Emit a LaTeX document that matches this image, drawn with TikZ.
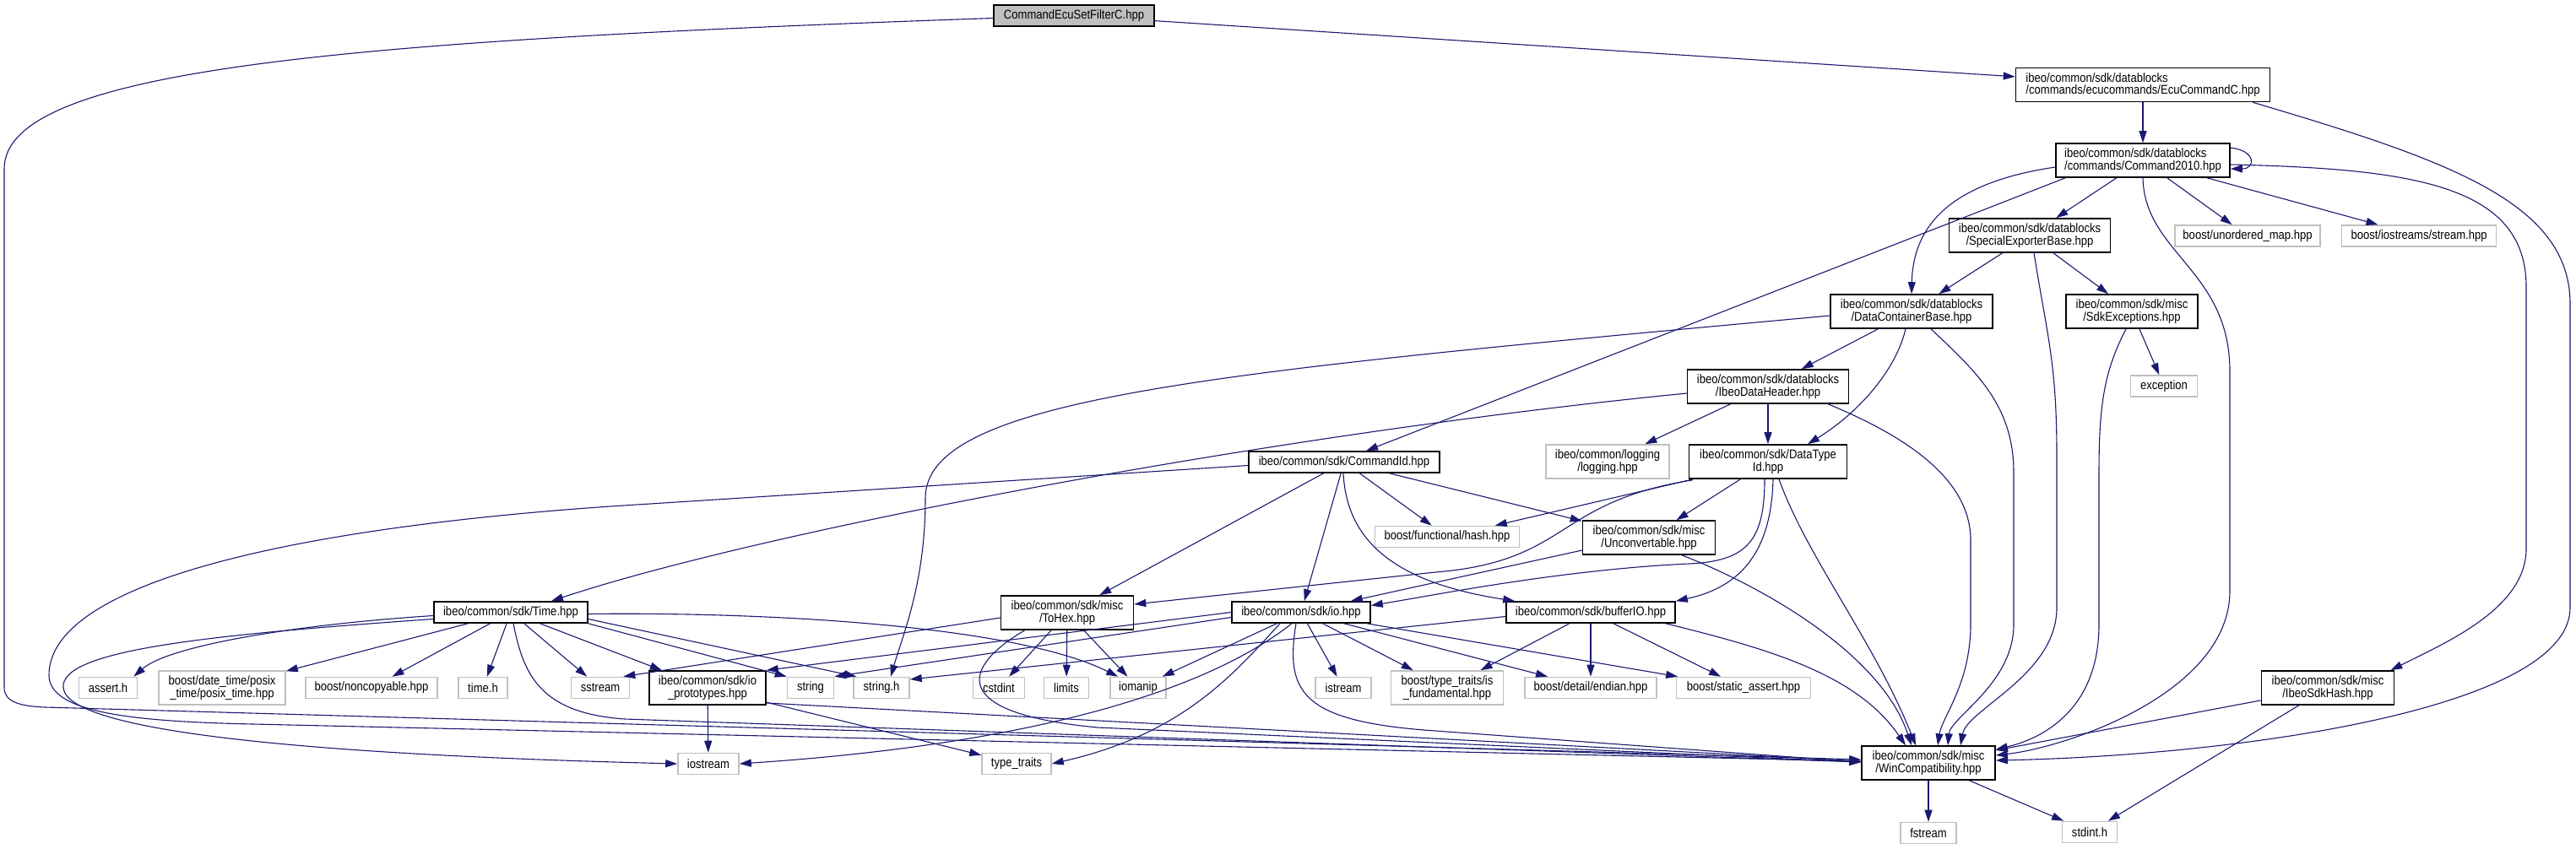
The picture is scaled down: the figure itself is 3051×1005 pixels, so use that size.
\documentclass[tikz,border=0pt]{standalone}
\usepackage{fontspec}
\setmainfont{Liberation Sans}[FakeStretch=0.87]
\usetikzlibrary{arrows.meta,calc}
\definecolor{edgeblue}{HTML}{191970}
\definecolor{extgrey}{HTML}{BFBFBF}
\begin{document}
\begin{tikzpicture}[
    x=1pt, y=-1pt,
    file/.style={draw=black, line width=1.6pt, fill=white, inner sep=0pt,
        font=\fontsize{15}{14.5}\selectfont, minimum height=25pt, align=center},
    ext/.style={file, draw=extgrey},
    tall/.style={minimum height=40pt},
    incl/.style={draw=edgeblue, line width=1.1pt, -{Triangle[length=14pt,width=9pt]}}
]
\useasboundingbox (0,0) rectangle (3051,1005);
\node[file, fill=extgrey, minimum width=190pt] (root) at (1272,18.5) {CommandEcuSetFilterC.hpp};
\node[file, tall, align=left, minimum width=301pt] (ecu) at (2538,100.5) {ibeo/common/sdk/datablocks\\/commands/ecucommands/EcuCommandC.hpp};
\node[file, tall, align=left, minimum width=206pt] (cmd2010) at (2538,190) {ibeo/common/sdk/datablocks\\/commands/Command2010.hpp};
\node[file, tall, minimum width=191pt] (seb) at (2404,279) {ibeo/common/sdk/datablocks\\/SpecialExporterBase.hpp};
\node[ext, minimum width=172pt] (umap) at (2662,279.5) {boost/unordered\_map.hpp};
\node[ext, minimum width=183pt] (stream) at (2865,279.5) {boost/iostreams/stream.hpp};
\node[file, tall, minimum width=192pt] (dcb) at (2264,369) {ibeo/common/sdk/datablocks\\/DataContainerBase.hpp};
\node[file, tall, minimum width=156pt] (sdkexc) at (2525,369) {ibeo/common/sdk/misc\\/SdkExceptions.hpp};
\node[ext, minimum width=79pt] (exception) at (2563,457.5) {exception};
\node[file, tall, minimum width=191pt] (idh) at (2094,458) {ibeo/common/sdk/datablocks\\/IbeoDataHeader.hpp};
\node[ext, tall, minimum width=146pt] (logging) at (1904,547) {ibeo/common/logging\\/logging.hpp};
\node[file, tall, minimum width=187pt] (dtid) at (2094,547) {ibeo/common/sdk/DataType\\Id.hpp};
\node[file, minimum width=226pt] (cmdid) at (1592,547.5) {ibeo/common/sdk/CommandId.hpp};
\node[ext, minimum width=171pt] (hash) at (1714,636) {boost/functional/hash.hpp};
\node[file, tall, minimum width=157pt] (unconv) at (1953,637) {ibeo/common/sdk/misc\\/Unconvertable.hpp};
\node[file, minimum width=182pt] (time) at (605,725.5) {ibeo/common/sdk/Time.hpp};
\node[file, tall, minimum width=157pt] (tohex) at (1264,726) {ibeo/common/sdk/misc\\/ToHex.hpp};
\node[file, minimum width=164pt] (io) at (1541,725.5) {ibeo/common/sdk/io.hpp};
\node[file, minimum width=200pt] (bufio) at (1884,725.5) {ibeo/common/sdk/bufferIO.hpp};
\node[ext, minimum width=69pt] (assert) at (128,815) {assert.h};
\node[ext, tall, minimum width=150pt] (posix) at (263,815) {boost/date\_time/posix\\\_time/posix\_time.hpp};
\node[ext, minimum width=156pt] (noncopy) at (440,815) {boost/noncopyable.hpp};
\node[ext, minimum width=58pt] (timeh) at (572,815) {time.h};
\node[ext, minimum width=69pt] (sstream) at (711,815) {sstream};
\node[file, tall, minimum width=138pt] (ioproto) at (838,815) {ibeo/common/sdk/io\\\_prototypes.hpp};
\node[ext, minimum width=55pt] (string) at (960,815) {string};
\node[ext, minimum width=66pt] (stringh) at (1044,815) {string.h};
\node[ext, minimum width=61pt] (cstdint) at (1183,815) {cstdint};
\node[ext, minimum width=53pt] (limits) at (1263,815) {limits};
\node[ext, minimum width=66pt] (iomanip) at (1348,815) {iomanip};
\node[ext, minimum width=66pt] (istream) at (1591,815) {istream};
\node[ext, tall, minimum width=133pt] (isfund) at (1714,815) {boost/type\_traits/is\\\_fundamental.hpp};
\node[ext, minimum width=156pt] (endian) at (1884,815) {boost/detail/endian.hpp};
\node[ext, minimum width=159pt] (sassert) at (2065,815) {boost/static\_assert.hpp};
\node[file, tall, minimum width=157pt] (sdkhash) at (2757,815) {ibeo/common/sdk/misc\\/IbeoSdkHash.hpp};
\node[file, tall, minimum width=158pt] (winc) at (2284,904) {ibeo/common/sdk/misc\\/WinCompatibility.hpp};
\node[ext, minimum width=72pt] (iostream) at (839,905) {iostream};
\node[ext, minimum width=82pt] (typetr) at (1204,905) {type\_traits};
\node[ext, minimum width=66pt] (fstream) at (2284,987) {fstream};
\node[ext, minimum width=65pt] (stdint) at (2475,986) {stdint.h};
\draw[incl] (root) -- (ecu);
\draw[incl] ($(root.west)+(0,3)$) .. controls (420,48) and (5,80) .. (5,200) -- (5,815) .. controls (5,832) and (25,837) .. (54,838) -- ($(winc.west)+(0,-4)$);
\draw[incl] (ecu) -- (cmd2010);
\draw[incl] ($(ecu.south east)+(-21,0)$) .. controls (2900,190) and (3044,240) .. (3044,360) -- (3044,720) .. controls (3044,840) and (2650,895) .. ($(winc.east)+(0,-3)$);
\draw[incl] ($(cmd2010.north east)+(0,6)$) .. controls (2672,178) and (2672,200) .. ($(cmd2010.east)+(0,10)$);
\draw[incl] (cmd2010) -- (seb);
\draw[incl] (cmd2010) -- (umap);
\draw[incl] (cmd2010) -- (stream);
\draw[incl] ($(cmd2010.west)+(0,8)$) .. controls (2320,215) and (2266,260) .. (dcb.north);
\draw[incl] ($(cmd2010.south west)+(12,0)$) -- ($(cmdid.north)+(26,0)$);
\draw[incl] (cmd2010.south) .. controls (2540,300) and (2641,320) .. (2641,440) -- (2641,700) .. controls (2641,820) and (2450,885) .. ($(winc.east)+(0,-9)$);
\draw[incl] ($(cmd2010.east)+(0,5)$) .. controls (2860,200) and (2992,220) .. (2992,340) -- (2992,650) .. controls (2992,720) and (2900,760) .. ($(sdkhash.north east)+(-5,0)$);
\draw[incl] (seb) -- (dcb);
\draw[incl] (seb) -- (sdkexc);
\draw[incl] ($(seb.south)+(5,0)$) .. controls (2425,400) and (2436,430) .. (2436,540) -- (2436,720) .. controls (2436,800) and (2330,840) .. ($(winc.north)+(38,0)$);
\draw[incl] (sdkexc) -- (exception);
\draw[incl] ($(sdkexc.south)+(-7,0)$) .. controls (2492,440) and (2486,480) .. (2486,560) -- (2486,740) .. controls (2486,840) and (2420,875) .. ($(winc.east)+(0,-16)$);
\draw[incl] (dcb) -- (idh);
\draw[incl] ($(dcb.south)+(-7,0)$) .. controls (2245,440) and (2200,490) .. ($(dtid.north)+(47,0)$);
\draw[incl] ($(dcb.west)+(0,5)$) .. controls (1450,440) and (1096,470) .. (1096,590) .. controls (1096,690) and (1070,750) .. ($(stringh.north)+(11,0)$);
\draw[incl] ($(dcb.south)+(23,0)$) .. controls (2340,440) and (2385,480) .. (2385,560) -- (2385,740) .. controls (2385,810) and (2310,850) .. ($(winc.north)+(23,0)$);
\draw[incl] ($(idh.west)+(0,8)$) .. controls (1500,515) and (900,630) .. ($(time.north)+(48,0)$);
\draw[incl] (idh) -- (logging);
\draw[incl] (idh) -- (dtid);
\draw[incl] ($(idh.south east)+(-25,0)$) .. controls (2240,510) and (2334,560) .. (2334,640) -- (2334,740) .. controls (2334,810) and (2300,850) .. ($(winc.north)+(11,0)$);
\draw[incl] (cmdid) -- (tohex);
\draw[incl] (cmdid) -- (io);
\draw[incl] (cmdid) -- (hash);
\draw[incl] (cmdid) -- (unconv);
\draw[incl] ($(cmdid.south)+(-1,0)$) .. controls (1595,640) and (1650,690) .. ($(bufio.north west)+(11,0)$);
\draw[incl] ($(cmdid.west)+(0,4)$) -- (770,597) .. controls (350,622) and (58,690) .. (58,800) .. controls (58,845) and (160,855) .. (300,858) -- ($(winc.west)+(0,-2)$);
\draw[incl] ($(time.west)+(0,4)$) .. controls (350,740) and (200,765) .. ($(assert.north east)+(-5,0)$);
\draw[incl] ($(time.west)+(0,8)$) .. controls (250,752) and (70,770) .. (75,815) .. controls (80,870) and (400,895) .. (iostream.west);
\draw[incl] (time) -- (posix);
\draw[incl] (time) -- (noncopy);
\draw[incl] (time) -- (timeh);
\draw[incl] (time) -- (sstream);
\draw[incl] (time) -- (ioproto);
\draw[incl] ($(time.south)+(3,0)$) .. controls (620,800) and (640,845) .. (740,852) -- ($(winc.west)+(0,-1)$);
\draw[incl] (time.south east) -- (string.north west);
\draw[incl] ($(time.east)+(0,8)$) -- ($(stringh.north west)+(4,0)$);
\draw[incl] ($(time.east)+(0,2)$) .. controls (900,725) and (1200,740) .. ($(iomanip.north west)+(10,0)$);
\draw[incl] ($(tohex.west)+(0,6)$) -- ($(sstream.north east)+(-8,0)$);
\draw[incl] (tohex) -- (cstdint);
\draw[incl] (tohex) -- (limits);
\draw[incl] (tohex) -- (iomanip);
\draw[incl] ($(tohex.south west)+(29,0)$) .. controls (1140,790) and (1120,845) .. (1300,862) -- ($(winc.west)+(0,-1)$);
\draw[incl] (io.west) -- (ioproto.north east);
\draw[incl] ($(io.west)+(0,6)$) -- (string.north east);
\draw[incl] (io) -- (iomanip);
\draw[incl] ($(io.south)+(-11,0)$) .. controls (1440,810) and (1250,880) .. (iostream.east);
\draw[incl] ($(io.south)+(-25,0)$) .. controls (1460,800) and (1400,870) .. (typetr.east);
\draw[incl] (io) -- (istream);
\draw[incl] (io) -- (isfund);
\draw[incl] (io) -- (endian);
\draw[incl] (io) -- (sassert);
\draw[incl] ($(io.south)+(-6,0)$) .. controls (1522,820) and (1540,855) .. (1700,866) -- ($(winc.west)+(0,-1)$);
\draw[incl] ($(bufio.west)+(0,5)$) -- ($(stringh.east)+(0,-10)$);
\draw[incl] (bufio) -- (isfund);
\draw[incl] (bufio) -- (endian);
\draw[incl] (bufio) -- (sassert);
\draw[incl] ($(bufio.south east)+(-12,0)$) .. controls (2100,770) and (2200,800) .. ($(winc.north)+(-27,0)$);
\draw[incl] (ioproto) -- (iostream);
\draw[incl] (ioproto) -- (typetr);
\draw[incl] ($(ioproto.east)+(0,18)$) -- ($(winc.west)+(0,-2)$);
\draw[incl] ($(unconv.west)+(0,15)$) -- ($(io.north east)+(-24,0)$);
\draw[incl] ($(unconv.south)+(39,0)$) .. controls (2100,700) and (2230,780) .. ($(winc.north)+(-20,0)$);
\draw[incl] (dtid) -- (hash);
\draw[incl] ($(dtid.south west)+(5,1)$) .. controls (1840,595) and (1860,665) .. (1700,678) -- ($(tohex.east)+(0,-10)$);
\draw[incl] (dtid) -- (unconv);
\draw[incl] ($(dtid.south)+(-4,0)$) .. controls (2090,640) and (2070,665) .. (2000,668) .. controls (1850,675) and (1700,705) .. ($(io.east)+(0,-8)$);
\draw[incl] ($(dtid.south)+(6,0)$) .. controls (2098,650) and (2065,695) .. (bufio.north east);
\draw[incl] ($(dtid.south)+(13,0)$) .. controls (2140,660) and (2220,760) .. ($(winc.north)+(-15,0)$);
\draw[incl] (sdkhash) -- (winc);
\draw[incl] (sdkhash) -- (stdint);
\draw[incl] (winc) -- (fstream);
\draw[incl] (winc) -- (stdint);
\end{tikzpicture}
\end{document}
